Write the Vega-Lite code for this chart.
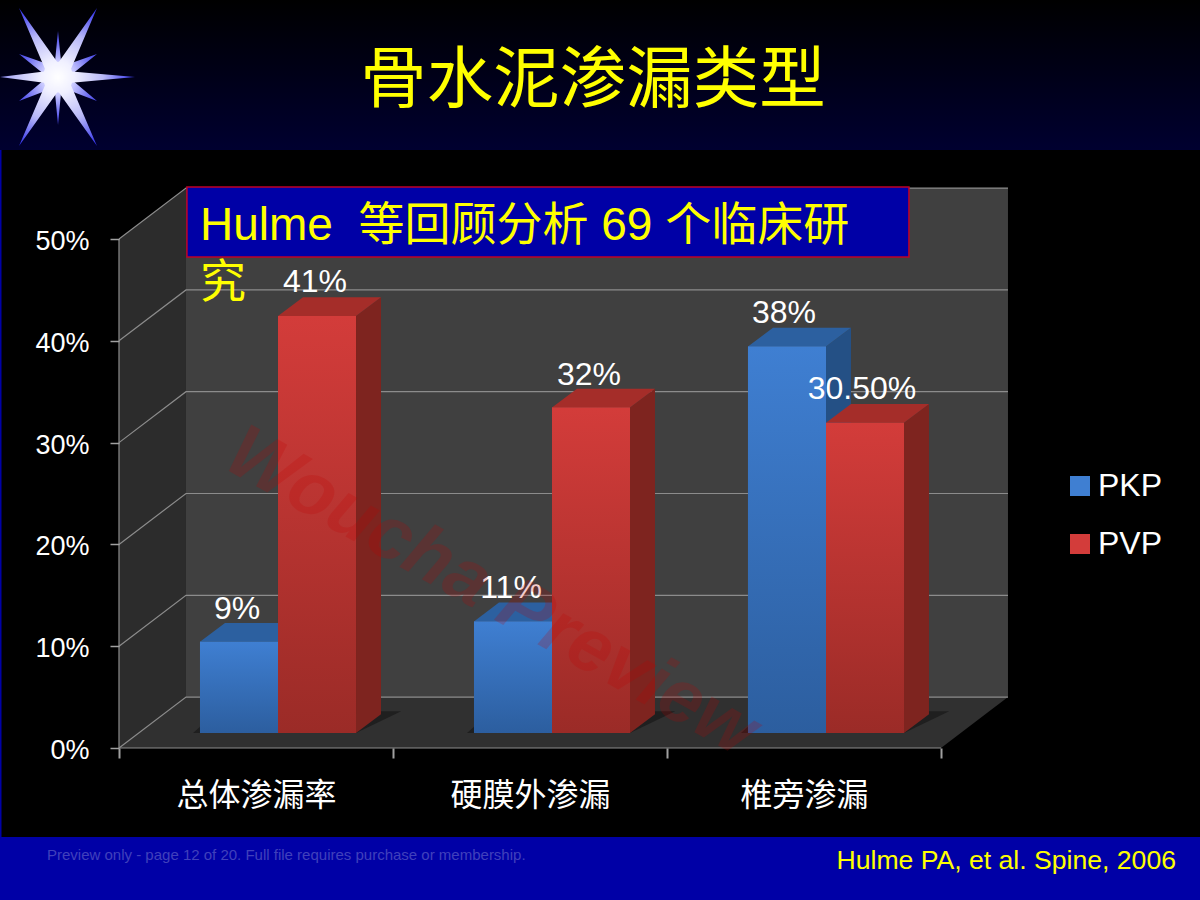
{
"$schema":"https://vega.github.io/schema/vega-lite/v6.json",
"width":1200,"height":900,"padding":0,"autosize":{"type":"none"},
"background":"#000000",
"config":{"view":{"stroke":null},"font":"Liberation Sans"},
"datasets":{
"bands":[{"band":"top","x0":-0.4343,"x1":3.9453,"y0":58.74,"y1":73.48},{"band":"bottom","x0":-0.4343,"x1":3.9453,"y0":-14.93,"y1":-8.74},{"band":"edge","x0":-0.4343,"x1":-0.4288,"y0":-8.74,"y1":58.74}],
"floor":[{"x":0,"y":0,"y2":0},{"x":0.2445,"y":0,"y2":5},{"x":3,"y":0,"y2":5},{"x":3.2445,"y":5,"y2":5}],
"leftwall":[{"x":0,"y":0,"y2":50},{"x":0.2445,"y":5,"y2":55}],
"backwall":[{"x0":0.2445,"x1":3.2445,"y0":5,"y1":55}],
"grid":[
{"g":"0","x":0,"y":0},{"g":"0","x":0.2445,"y":5},{"g":"0","x":3.2445,"y":5},
{"g":"10","x":0,"y":10},{"g":"10","x":0.2445,"y":15},{"g":"10","x":3.2445,"y":15},
{"g":"20","x":0,"y":20},{"g":"20","x":0.2445,"y":25},{"g":"20","x":3.2445,"y":25},
{"g":"30","x":0,"y":30},{"g":"30","x":0.2445,"y":35},{"g":"30","x":3.2445,"y":35},
{"g":"40","x":0,"y":40},{"g":"40","x":0.2445,"y":45},{"g":"40","x":3.2445,"y":45},
{"g":"50","x":0,"y":50},{"g":"50","x":0.2445,"y":55},{"g":"50","x":3.2445,"y":55},
{"g":"front","x":0,"y":50},{"g":"front","x":0,"y":0},{"g":"front","x":3,"y":0}
],
"shadow":[
{"g":"a","x":0.27,"y":1.47,"y2":1.47},{"g":"a","x":0.36,"y":1.47,"y2":3.6},{"g":"a","x":0.865,"y":1.47,"y2":3.6},{"g":"a","x":1.03,"y":3.6,"y2":3.6},
{"g":"b","x":1.27,"y":1.47,"y2":1.47},{"g":"b","x":1.36,"y":1.47,"y2":3.6},{"g":"b","x":1.865,"y":1.47,"y2":3.6},{"g":"b","x":2.03,"y":3.6,"y2":3.6},
{"g":"c","x":2.27,"y":1.47,"y2":1.47},{"g":"c","x":2.36,"y":1.47,"y2":3.6},{"g":"c","x":2.865,"y":1.47,"y2":3.6},{"g":"c","x":3.03,"y":3.6,"y2":3.6}
],
"fronts":[
{"series":"PKP","category":"总体渗漏率","value":9,"x0":0.2956,"x1":0.5803,"bottom":1.47,"top":10.44},
{"series":"PVP","category":"总体渗漏率","value":41,"x0":0.5803,"x1":0.865,"bottom":1.47,"top":42.44},
{"series":"PKP","category":"硬膜外渗漏","value":11,"x0":1.2956,"x1":1.5803,"bottom":1.47,"top":12.44},
{"series":"PVP","category":"硬膜外渗漏","value":32,"x0":1.5803,"x1":1.865,"bottom":1.47,"top":33.44},
{"series":"PKP","category":"椎旁渗漏","value":38,"x0":2.2956,"x1":2.5803,"bottom":1.47,"top":39.44},
{"series":"PVP","category":"椎旁渗漏","value":30.5,"x0":2.5803,"x1":2.865,"bottom":1.47,"top":31.94}
],
"sides":[
{"series":"PKP","bar":"a","x":0.5803,"y":1.47,"y2":10.44},{"series":"PKP","bar":"a","x":0.6715,"y":3.32,"y2":12.29},
{"series":"PVP","bar":"b","x":0.865,"y":1.47,"y2":42.44},{"series":"PVP","bar":"b","x":0.9562,"y":3.32,"y2":44.29},
{"series":"PKP","bar":"c","x":1.5803,"y":1.47,"y2":12.44},{"series":"PKP","bar":"c","x":1.6715,"y":3.32,"y2":14.29},
{"series":"PVP","bar":"d","x":1.865,"y":1.47,"y2":33.44},{"series":"PVP","bar":"d","x":1.9562,"y":3.32,"y2":35.29},
{"series":"PKP","bar":"e","x":2.5803,"y":1.47,"y2":39.44},{"series":"PKP","bar":"e","x":2.6715,"y":3.32,"y2":41.29},
{"series":"PVP","bar":"f","x":2.865,"y":1.47,"y2":31.94},{"series":"PVP","bar":"f","x":2.9562,"y":3.32,"y2":33.79}
],
"tops":[
{"series":"PKP","bar":"a","x":0.2956,"y":10.44,"y2":10.44},{"series":"PKP","bar":"a","x":0.3868,"y":10.44,"y2":12.29},{"series":"PKP","bar":"a","x":0.5803,"y":10.44,"y2":12.29},{"series":"PKP","bar":"a","x":0.6715,"y":12.29,"y2":12.29},
{"series":"PVP","bar":"b","x":0.5803,"y":42.44,"y2":42.44},{"series":"PVP","bar":"b","x":0.6715,"y":42.44,"y2":44.29},{"series":"PVP","bar":"b","x":0.865,"y":42.44,"y2":44.29},{"series":"PVP","bar":"b","x":0.9562,"y":44.29,"y2":44.29},
{"series":"PKP","bar":"c","x":1.2956,"y":12.44,"y2":12.44},{"series":"PKP","bar":"c","x":1.3868,"y":12.44,"y2":14.29},{"series":"PKP","bar":"c","x":1.5803,"y":12.44,"y2":14.29},{"series":"PKP","bar":"c","x":1.6715,"y":14.29,"y2":14.29},
{"series":"PVP","bar":"d","x":1.5803,"y":33.44,"y2":33.44},{"series":"PVP","bar":"d","x":1.6715,"y":33.44,"y2":35.29},{"series":"PVP","bar":"d","x":1.865,"y":33.44,"y2":35.29},{"series":"PVP","bar":"d","x":1.9562,"y":35.29,"y2":35.29},
{"series":"PKP","bar":"e","x":2.2956,"y":39.44,"y2":39.44},{"series":"PKP","bar":"e","x":2.3868,"y":39.44,"y2":41.29},{"series":"PKP","bar":"e","x":2.5803,"y":39.44,"y2":41.29},{"series":"PKP","bar":"e","x":2.6715,"y":41.29,"y2":41.29},
{"series":"PVP","bar":"f","x":2.5803,"y":31.94,"y2":31.94},{"series":"PVP","bar":"f","x":2.6715,"y":31.94,"y2":33.79},{"series":"PVP","bar":"f","x":2.865,"y":31.94,"y2":33.79},{"series":"PVP","bar":"f","x":2.9562,"y":33.79,"y2":33.79}
],
"labels":[
{"label":"9%","x":0.4307,"y":13.7},{"label":"41%","x":0.7153,"y":45.73},{"label":"11%","x":1.4307,"y":15.67},{"label":"32%","x":1.7153,"y":36.69},{"label":"38%","x":2.427,"y":42.78},{"label":"30.50%","x":2.7117,"y":35.22}
]
},
"layer":[
{"data":{"name":"bands"},"transform":[{"filter":"datum.band=='top'"}],"mark":{"type":"rect","color":{"gradient":"linear","x1":0,"y1":0,"x2":0,"y2":1,"stops":[{"offset":0,"color":"#000000"},{"offset":1,"color":"#000030"}]}},
"encoding":{
"x":{"field":"x0","type":"quantitative","scale":{"domain":[-0.4343,3.9453],"nice":false,"zero":false},
"axis":{"orient":"bottom","offset":-152,"values":[0,0.5,1,1.5,2,2.5,3],"domain":false,"grid":false,"title":null,"tickSize":10,"tickColor":"#a0a0a0","tickWidth":2,"tickOpacity":{"condition":{"test":"datum.value % 1 != 0","value":0},"value":1},"labelExpr":"datum.value==0.5?'总体渗漏率':datum.value==1.5?'硬膜外渗漏':datum.value==2.5?'椎旁渗漏':''","labelFont":"Noto Sans CJK SC","labelFontSize":32,"labelColor":"#ffffff","labelPadding":22,"labelFlush":false,"labelOverlap":false,"zindex":1}},
"x2":{"field":"x1"},
"y":{"field":"y0","type":"quantitative","scale":{"domain":[-14.93,73.48],"nice":false,"zero":false},
"axis":{"orient":"left","offset":-119,"values":[0,10,20,30,40,50],"domain":false,"grid":false,"title":null,"tickSize":9,"tickColor":"#a0a0a0","tickWidth":1.5,"labelExpr":"datum.value+'%'","labelFont":"Liberation Sans","labelFontSize":27,"labelColor":"#ffffff","labelPadding":21,"labelOffset":2.5,"zindex":1}},
"y2":{"field":"y1"}}},
{"data":{"name":"bands"},"transform":[{"filter":"datum.band!='top'"}],"mark":{"type":"rect","color":"#0000a6"},"encoding":{"x":{"field":"x0","type":"quantitative"},"x2":{"field":"x1"},"y":{"field":"y0","type":"quantitative"},"y2":{"field":"y1"}}},
{"data":{"name":"leftwall"},"mark":{"type":"area","color":"#2c2c2c","opacity":1},"encoding":{"x":{"field":"x","type":"quantitative"},"y":{"field":"y","type":"quantitative"},"y2":{"field":"y2"}}},
{"data":{"name":"floor"},"mark":{"type":"area","color":"#303030","opacity":1},"encoding":{"x":{"field":"x","type":"quantitative"},"y":{"field":"y","type":"quantitative"},"y2":{"field":"y2"}}},
{"data":{"name":"backwall"},"mark":{"type":"rect","color":"#404040"},"encoding":{"x":{"field":"x0","type":"quantitative"},"x2":{"field":"x1"},"y":{"field":"y0","type":"quantitative"},"y2":{"field":"y1"}}},
{"data":{"name":"grid"},"mark":{"type":"line","color":"#8c8c8c","strokeWidth":1.2},"encoding":{"x":{"field":"x","type":"quantitative"},"y":{"field":"y","type":"quantitative"},"detail":{"field":"g"}}},
{"data":{"name":"shadow"},"mark":{"type":"area","color":"#1c1c1c","opacity":0.85},"encoding":{"x":{"field":"x","type":"quantitative"},"y":{"field":"y","type":"quantitative"},"y2":{"field":"y2"},"detail":{"field":"g"}}},
{"data":{"name":"fronts"},"mark":{"type":"rect"},"encoding":{"x":{"field":"x0","type":"quantitative"},"x2":{"field":"x1"},"y":{"field":"top","type":"quantitative"},"y2":{"field":"bottom"},
"color":{"field":"series","type":"nominal","scale":{"domain":["PKP","PVP"],"range":["#3f7fd2","#d33c3a"]},
"legend":{"orient":"none","legendX":1064,"legendY":470,"title":null,"symbolType":"square","symbolSize":400,"symbolStrokeWidth":0,"labelFont":"Liberation Sans","labelFontSize":32,"labelColor":"#ffffff","labelOffset":2,"rowPadding":26,"padding":0}}}},
{"data":{"name":"sides"},"transform":[{"filter":"datum.series=='PKP'"}],"mark":{"type":"area","color":"#245085","opacity":1},"encoding":{"x":{"field":"x","type":"quantitative"},"y":{"field":"y","type":"quantitative"},"y2":{"field":"y2"},"detail":{"field":"bar"}}},
{"data":{"name":"tops"},"transform":[{"filter":"datum.series=='PKP'"}],"mark":{"type":"area","color":"#2c60a0","opacity":1},"encoding":{"x":{"field":"x","type":"quantitative"},"y":{"field":"y","type":"quantitative"},"y2":{"field":"y2"},"detail":{"field":"bar"}}},
{"data":{"name":"fronts"},"transform":[{"filter":"datum.series=='PKP'"}],"mark":{"type":"rect","color":{"gradient":"linear","x1":0,"y1":0,"x2":0,"y2":1,"stops":[{"offset":0,"color":"#3f7fd2"},{"offset":1,"color":"#2c5e9f"}]}},"encoding":{"x":{"field":"x0","type":"quantitative"},"x2":{"field":"x1"},"y":{"field":"top","type":"quantitative"},"y2":{"field":"bottom"}}},
{"data":{"name":"sides"},"transform":[{"filter":"datum.series=='PVP'"}],"mark":{"type":"area","color":"#7e241f","opacity":1},"encoding":{"x":{"field":"x","type":"quantitative"},"y":{"field":"y","type":"quantitative"},"y2":{"field":"y2"},"detail":{"field":"bar"}}},
{"data":{"name":"tops"},"transform":[{"filter":"datum.series=='PVP'"}],"mark":{"type":"area","color":"#a52d29","opacity":1},"encoding":{"x":{"field":"x","type":"quantitative"},"y":{"field":"y","type":"quantitative"},"y2":{"field":"y2"},"detail":{"field":"bar"}}},
{"data":{"name":"fronts"},"transform":[{"filter":"datum.series=='PVP'"}],"mark":{"type":"rect","color":{"gradient":"linear","x1":0,"y1":0,"x2":0,"y2":1,"stops":[{"offset":0,"color":"#d33c3a"},{"offset":1,"color":"#9b2b27"}]}},"encoding":{"x":{"field":"x0","type":"quantitative"},"x2":{"field":"x1"},"y":{"field":"top","type":"quantitative"},"y2":{"field":"bottom"}}},
{"data":{"values":[{"x0":0.248,"x1":2.883,"y0":48.23,"y1":55.1}]},"mark":{"type":"rect","color":"#0000a6","stroke":"#c00028","strokeWidth":1.5},"encoding":{"x":{"field":"x0","type":"quantitative"},"x2":{"field":"x1"},"y":{"field":"y0","type":"quantitative"},"y2":{"field":"y1"}}},
{"data":{"values":[{"t":"Hulme\u00a0\u00a0等回顾分析 69 个临床研","x":0.2956,"y":51.32},{"t":"究","x":0.2956,"y":45.72}]},"mark":{"type":"text","align":"left","baseline":"middle","font":"Liberation Sans, Noto Sans CJK SC","fontSize":46,"color":"#ffff00"},"encoding":{"x":{"field":"x","type":"quantitative"},"y":{"field":"y","type":"quantitative"},"text":{"field":"t"}}},
{"data":{"name":"labels"},"mark":{"type":"text","align":"center","baseline":"middle","font":"Liberation Sans","fontSize":32,"color":"#ffffff"},"encoding":{"x":{"field":"x","type":"quantitative"},"y":{"field":"y","type":"quantitative"},"text":{"field":"label"}}},
{"data":{"values":[{"t":"骨水泥渗漏类型","x":1.7299,"y":65.4}]},"mark":{"type":"text","align":"center","baseline":"middle","font":"Noto Sans CJK SC","fontSize":66.5,"color":"#ffff00"},"encoding":{"x":{"field":"x","type":"quantitative"},"y":{"field":"y","type":"quantitative"},"text":{"field":"t"}}},
{"data":{"values":[{"t":"Preview only - page 12 of 20. Full file requires purchase or membership.","x":-0.2628,"y":-10.52}]},"mark":{"type":"text","align":"left","baseline":"middle","font":"Liberation Sans","fontSize":15,"color":"#4040bc"},"encoding":{"x":{"field":"x","type":"quantitative"},"y":{"field":"y","type":"quantitative"},"text":{"field":"t"}}},
{"data":{"values":[{"t":"Hulme PA, et al. Spine, 2006","x":3.8577,"y":-11.05}]},"mark":{"type":"text","align":"right","baseline":"middle","font":"Liberation Sans","fontSize":26.6,"color":"#ffff00"},"encoding":{"x":{"field":"x","type":"quantitative"},"y":{"field":"y","type":"quantitative"},"text":{"field":"t"}}},
{"data":{"values":[{"x":-0.2226,"y":65.91}]},"mark":{"type":"point","filled":true,"opacity":1,"size":19600,"shape":"M .557 .343 L .05 .15 L 0 .686 L -.05 .15 L -.557 .343 L -.15 0 L -.557 -.329 L -.05 -.15 L 0 -.657 L .05 -.15 L .557 -.329 L .15 0 Z","color":{"gradient":"radial","x1":0.5,"y1":0.5,"r1":0,"x2":0.5,"y2":0.5,"r2":0.6,"stops":[{"offset":0,"color":"#ffffff"},{"offset":0.3,"color":"#c8c8ff"},{"offset":0.65,"color":"#6464f0"},{"offset":1,"color":"#2020e0"}]}},"encoding":{"x":{"field":"x","type":"quantitative"},"y":{"field":"y","type":"quantitative"}}},
{"data":{"values":[{"x":-0.2226,"y":65.91}]},"mark":{"type":"point","filled":true,"opacity":1,"size":19600,"shape":"M 1.1 0 L .2 .08 L .187 .12 L .557 .986 L .013 .22 L -.013 .22 L -.557 .986 L -.187 .12 L -.2 .08 L -.83 0 L -.2 -.08 L -.187 -.12 L -.557 -.986 L -.013 -.22 L .013 -.22 L .557 -.986 L .187 -.12 L .2 -.08 Z","color":{"gradient":"radial","x1":0.43,"y1":0.5,"r1":0,"x2":0.43,"y2":0.5,"r2":0.6,"stops":[{"offset":0,"color":"#ffffff"},{"offset":0.2,"color":"#f0f0ff"},{"offset":0.55,"color":"#b8b8f8"},{"offset":0.82,"color":"#5858f0"},{"offset":1,"color":"#1818e0"}]}},"encoding":{"x":{"field":"x","type":"quantitative"},"y":{"field":"y","type":"quantitative"}}},
{"data":{"values":[{"t":"Woucha Preview","x":1.361,"y":15.3}]},"mark":{"type":"text","align":"center","baseline":"middle","font":"Liberation Sans","fontSize":75,"fontStyle":"italic","fontWeight":"bold","angle":29.3,"color":"#c00000","opacity":0.2},"encoding":{"x":{"field":"x","type":"quantitative"},"y":{"field":"y","type":"quantitative"},"text":{"field":"t"}}}
]
}
